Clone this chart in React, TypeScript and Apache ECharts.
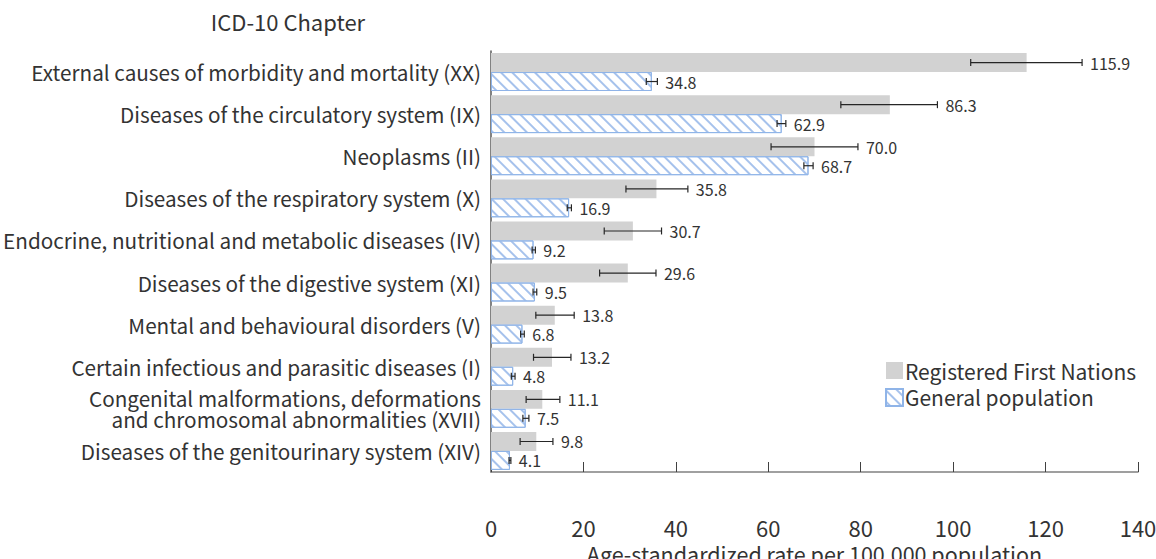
import React, { useEffect, useRef } from "react";
import * as echarts from "echarts";

// ICD-10 chapters, top to bottom
const categories = [
  "External causes of morbidity and mortality (XX)",
  "Diseases of the circulatory system (IX)",
  "Neoplasms (II)",
  "Diseases of the respiratory system (X)",
  "Endocrine, nutritional and metabolic diseases (IV)",
  "Diseases of the digestive system (XI)",
  "Mental and behavioural disorders (V)",
  "Certain infectious and parasitic diseases (I)",
  "Congenital malformations, deformations\nand chromosomal abnormalities (XVII)",
  "Diseases of the genitourinary system (XIV)",
];

const seriesNames = ["Registered First Nations", "General population"];

// Age-standardized rates with 95% confidence limits
const firstNationsRate = [115.9, 86.3, 70.0, 35.8, 30.7, 29.6, 13.8, 13.2, 11.1, 9.8];
const firstNationsLow = [103.8, 75.7, 60.6, 29.2, 24.5, 23.5, 9.7, 9.2, 7.6, 6.3];
const firstNationsHigh = [127.9, 96.6, 79.4, 42.6, 36.9, 35.7, 18.0, 17.3, 14.9, 13.4];

const generalRate = [34.8, 62.9, 68.7, 16.9, 9.2, 9.5, 6.8, 4.8, 7.5, 4.1];
const generalLow = [33.6, 61.9, 67.7, 16.5, 8.9, 9.1, 6.4, 4.4, 6.9, 3.9];
const generalHigh = [36.0, 63.8, 69.7, 17.4, 9.6, 9.9, 7.2, 5.2, 8.2, 4.3];

const xMin = 0;
const xMax = 140;
const xInterval = 20;

const FONT = "'Noto Sans CJK KR', 'Noto Sans', sans-serif";
const TEXT = "#333333";

function errorBars(side: number) {
  return (_params: any, api: any) => {
    const cat = api.value(0);
    const lo = api.coord([api.value(1), cat]);
    const hi = api.coord([api.value(2), cat]);
    const band = api.size([0, 1])[1];
    const y = lo[1] + side * band * 0.225;
    const cap = 3.5;
    const stroke = { stroke: "#262626", lineWidth: 1.2 };
    return {
      type: "group",
      children: [
        { type: "line", shape: { x1: lo[0], y1: y, x2: hi[0], y2: y }, style: stroke },
        { type: "line", shape: { x1: lo[0], y1: y - cap, x2: lo[0], y2: y + cap }, style: stroke },
        { type: "line", shape: { x1: hi[0], y1: y - cap, x2: hi[0], y2: y + cap }, style: stroke },
        {
          type: "text",
          x: hi[0] + 8,
          y: y,
          style: {
            text: Number(api.value(3)).toFixed(1),
            fill: TEXT,
            fontSize: 16,
            fontFamily: FONT,
            align: "left",
            verticalAlign: "middle",
          },
        },
      ],
    };
  };
}

export default function App() {
  const ref = useRef<HTMLDivElement>(null);

  useEffect(() => {
    if (!ref.current) return;
    const chart = echarts.init(ref.current, undefined, { renderer: "svg" });

    const fnErr = categories.map((_, i) => [i, firstNationsLow[i], firstNationsHigh[i], firstNationsRate[i]]);
    const gpErr = categories.map((_, i) => [i, generalLow[i], generalHigh[i], generalRate[i]]);

    chart.setOption({
      animation: false,
      textStyle: { fontFamily: FONT },
      grid: {
        left: 491,
        right: 18,
        top: 51,
        bottom: 87,
        containLabel: false,
        outerBoundsMode: "none",
      },
      legend: {
        data: seriesNames.map((name) => ({ name, icon: "rect" })),
        orient: "vertical",
        left: 885,
        top: 360,
        itemWidth: 17,
        itemHeight: 17,
        itemGap: 6,
        padding: 0,
        textStyle: { fontSize: 21, color: TEXT, fontFamily: FONT, padding: [0, 0, 0, -3] },
      },
      graphic: [
        {
          type: "text",
          x: 288,
          y: 21,
          style: {
            text: "ICD-10 Chapter",
            fontSize: 22,
            fontFamily: FONT,
            fill: TEXT,
            align: "center",
            verticalAlign: "middle",
          },
        },
      ],
      xAxis: {
        type: "value",
        min: xMin,
        max: xMax,
        interval: xInterval,
        name: "Age-standardized rate per 100,000 population",
        nameLocation: "middle",
        nameGap: 67,
        nameTextStyle: { fontSize: 21.5, color: TEXT, fontFamily: FONT },
        axisLine: { show: true, lineStyle: { color: "#808080", width: 1.5 } },
        axisTick: { show: true, inside: true, length: 10, lineStyle: { color: "#404040", width: 1 } },
        axisLabel: { fontSize: 22, color: TEXT, margin: 44, fontFamily: FONT },
        splitLine: { show: false },
      },
      yAxis: {
        type: "category",
        data: categories,
        inverse: true,
        axisLine: { show: true, lineStyle: { color: "#595959", width: 1.5 } },
        axisTick: { show: false },
        axisLabel: { fontSize: 20.7, color: TEXT, margin: 10, lineHeight: 21, fontFamily: FONT },
      },
      series: [
        {
          name: seriesNames[0],
          type: "bar",
          data: firstNationsRate,
          barGap: "0%",
          barCategoryGap: "10%",
          itemStyle: { color: "#d2d2d2" },
        },
        {
          name: seriesNames[1],
          type: "bar",
          data: generalRate,
          barGap: "0%",
          barCategoryGap: "10%",
          itemStyle: {
            color: "#ffffff",
            borderColor: "#8fb4e8",
            borderWidth: 1,
            decal: {
              symbol: "rect",
              symbolSize: 1,
              color: "#a6c2ec",
              dashArrayX: [1, 0],
              dashArrayY: [1.3, 5.7],
              rotation: Math.PI / 4,
            },
          },
        },
        {
          type: "custom",
          renderItem: errorBars(-1),
          data: fnErr,
          encode: { x: [1, 2], y: 0 },
          z: 5,
          silent: true,
        },
        {
          type: "custom",
          renderItem: errorBars(1),
          data: gpErr,
          encode: { x: [1, 2], y: 0 },
          z: 5,
          silent: true,
        },
      ],
    });

    return () => chart.dispose();
  }, []);

  return (
    <div
      ref={ref}
      style={{ position: "fixed", left: 0, top: 0, width: 1156, height: 559, background: "#ffffff" }}
    />
  );
}
